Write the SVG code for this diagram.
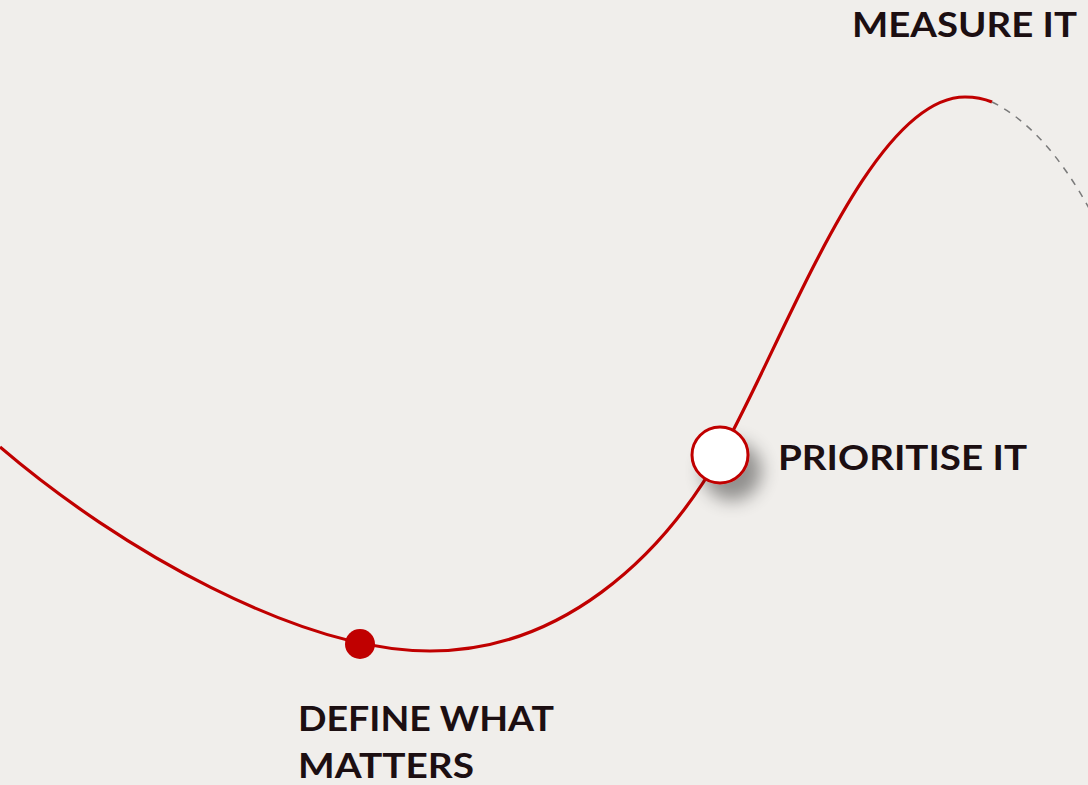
<svg xmlns="http://www.w3.org/2000/svg" width="1088" height="785" viewBox="0 0 1088 785">
  <defs>
    <style>
      .label { font-family: Lato, "Liberation Sans", Arial, sans-serif; font-weight: 700; font-size: 35px; fill: #1c0f12; }
      .curve { fill: none; stroke: #c00000; stroke-width: 3.2; stroke-linecap: butt; }
      .future { fill: none; stroke: #7a7a7a; stroke-width: 1.5; stroke-dasharray: 7 7; }
    </style>
    <filter id="shadow" x="-80%" y="-80%" width="260%" height="260%">
      <feGaussianBlur in="SourceAlpha" stdDeviation="9"/>
      <feOffset dx="12" dy="16" result="blur"/>
      <feComponentTransfer><feFuncA type="linear" slope="0.4"/></feComponentTransfer>
      <feMerge><feMergeNode/><feMergeNode in="SourceGraphic"/></feMerge>
    </filter>
  </defs>

  <rect width="1088" height="785" fill="#f0eeeb"/>

  <!-- path through the stages -->
  <g id="connectors">
    <path class="curve" d="M0,447 C120,550 300,651 430,651 C560,651 660,560 720,455 C785,340 870,97 965,97 Q980,97 992,102"/>
    <path class="future" d="M992,102 Q1045,128 1090,210"/>
  </g>

  <g id="define-what-matters">
    <circle cx="360" cy="644" r="15" fill="#c00000"/>
    <text class="label" x="298" y="731" textLength="256" lengthAdjust="spacingAndGlyphs">DEFINE WHAT</text>
    <text class="label" x="298" y="778" textLength="176" lengthAdjust="spacingAndGlyphs">MATTERS</text>
  </g>

  <g id="prioritise-it">
    <circle cx="720" cy="455" r="28" fill="#ffffff" stroke="#c00000" stroke-width="3" filter="url(#shadow)"/>
    <text class="label" x="778" y="470" textLength="249" lengthAdjust="spacingAndGlyphs">PRIORITISE IT</text>
  </g>

  <g id="measure-it">
    <text class="label" x="852" y="37" textLength="225" lengthAdjust="spacingAndGlyphs">MEASURE IT</text>
  </g>
</svg>
